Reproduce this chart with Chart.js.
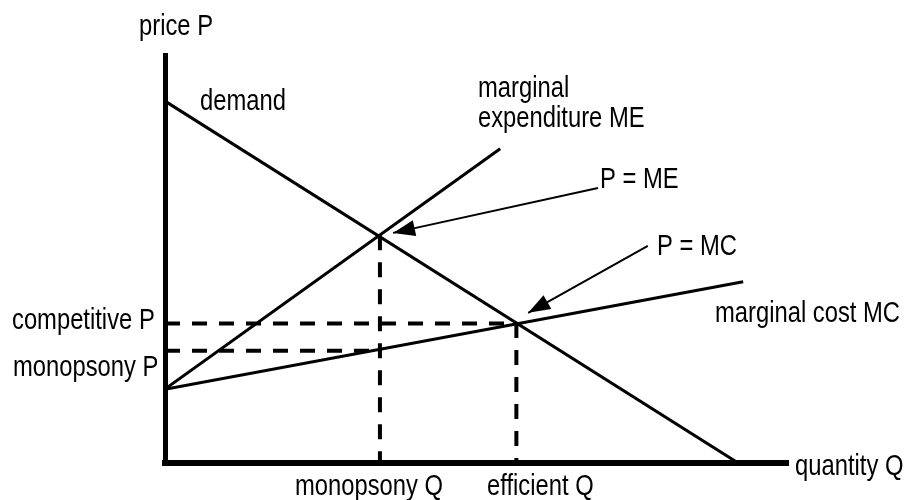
<!DOCTYPE html>
<html>
<head>
<meta charset="utf-8">
<script src="https://cdn.jsdelivr.net/npm/chart.js@4.4.1/dist/chart.umd.min.js"></script>
<style>
  html, body { margin: 0; padding: 0; background: #fff; }
  #wrap { width: 907px; height: 500px; }
</style>
</head>
<body>
<div id="wrap"><canvas id="chartMonopsony" width="907" height="500"></canvas></div>
<script>
// curves (axis units: 0..100 on both axes)
const demandLine = [{ x: 0, y: 88.7 }, { x: 92, y: 0 }];
const meLine = [{ x: 0, y: 18.1 }, { x: 53.8, y: 77.0 }];
const mcLine = [{ x: 0, y: 18.1 }, { x: 92.8, y: 44.4 }];

// guide values
const monopsonyQ = 34.5, efficientQ = 56.4;
const monopsonyP = 27.5, competitiveP = 34.2;
const meCross = 55.8, mcCross = 34.3;

// pointer arrows: [from, tip]
const arrowME = [{ x: 69.5, y: 67.4 }, { x: 36.6, y: 56.4 }];
const arrowMC = [{ x: 77.5, y: 53.2 }, { x: 58.3, y: 36.8 }];

// texts: [label, left px, baseline px]
const labels = [
    ['price P', 139, 35],
    ['demand', 200, 110],
    ['marginal', 478, 97],
    ['expenditure ME', 478, 127],
    ['P = ME', 600, 188],
    ['P = MC', 657, 255],
    ['marginal cost MC', 715, 322],
    ['competitive P', 12, 329],
    ['monopsony P', 13, 376],
    ['quantity Q', 795, 475],
    ['monopsony Q', 295, 495],
    ['efficient Q', 487, 495]
];

// no narrow face installed, so squeeze the regular one
const FONT = '29px "Liberation Sans", Arial, sans-serif';
const SQUEEZE = 0.82;

function solid(data) {
    return { data: data, showLine: true, borderColor: '#000', borderWidth: 3, pointRadius: 0, fill: false };
}
function dashed(data) {
    return { data: data, showLine: true, borderColor: '#000', borderWidth: 4, borderDash: [15, 12], pointRadius: 0, fill: false };
}

const arrowHeads = {
    id: 'arrowHeads',
    afterDatasetsDraw(chart) {
        const ctx = chart.ctx;
        chart.data.datasets.forEach(function(ds, i) {
            if (!ds.arrow) return;
            const pts = chart.getDatasetMeta(i).data;
            const a = pts[pts.length - 2], b = pts[pts.length - 1];
            const ang = Math.atan2(b.y - a.y, b.x - a.x);
            const len = 22, half = 8;
            ctx.save();
            ctx.translate(b.x, b.y);
            ctx.rotate(ang);
            ctx.beginPath();
            ctx.moveTo(0, 0);
            ctx.lineTo(-len, -half);
            ctx.lineTo(-len, half);
            ctx.closePath();
            ctx.fillStyle = '#000';
            ctx.fill();
            ctx.restore();
        });
    }
};

const textLabels = {
    id: 'textLabels',
    afterDraw(chart) {
        const ctx = chart.ctx;
        labels.forEach(function(l) {
            ctx.save();
            ctx.font = FONT;
            ctx.fillStyle = '#000';
            ctx.textAlign = 'left';
            ctx.textBaseline = 'alphabetic';
            ctx.translate(l[1], l[2]);
            ctx.scale(SQUEEZE, 1);
            ctx.fillText(l[0], 0, 0);
            ctx.restore();
        });
    }
};

document.addEventListener('DOMContentLoaded', function() {
    const ctx = document.getElementById('chartMonopsony').getContext('2d');

    new Chart(ctx, {
        type: 'scatter',
        data: {
            datasets: [
                solid(demandLine),
                solid(meLine),
                solid(mcLine),
                dashed([{ x: 0, y: competitiveP }, { x: efficientQ, y: competitiveP }]),
                dashed([{ x: 0, y: monopsonyP }, { x: monopsonyQ, y: monopsonyP }]),
                dashed([{ x: monopsonyQ, y: meCross }, { x: monopsonyQ, y: 0 }]),
                dashed([{ x: efficientQ, y: mcCross }, { x: efficientQ, y: 0 }]),
                Object.assign(solid(arrowME), { borderWidth: 2, arrow: true }),
                Object.assign(solid(arrowMC), { borderWidth: 2, arrow: true })
            ]
        },
        options: {
            responsive: false,
            animation: false,
            layout: { padding: { top: 55, right: 119, left: 0, bottom: 0 } },
            plugins: { legend: { display: false }, tooltip: { enabled: false } },
            scales: {
                x: {
                    type: 'linear', min: 0, max: 100,
                    grid: { display: false, drawTicks: false },
                    border: { display: true, color: '#000', width: 6 },
                    ticks: { display: false },
                    afterFit: function(s) { s.height = 37; }
                },
                y: {
                    type: 'linear', min: 0, max: 100,
                    grid: { display: false, drawTicks: false },
                    border: { display: true, color: '#000', width: 5 },
                    ticks: { display: false },
                    afterFit: function(s) { s.width = 165; }
                }
            }
        },
        plugins: [arrowHeads, textLabels]
    });
});
</script>
</body>
</html>
